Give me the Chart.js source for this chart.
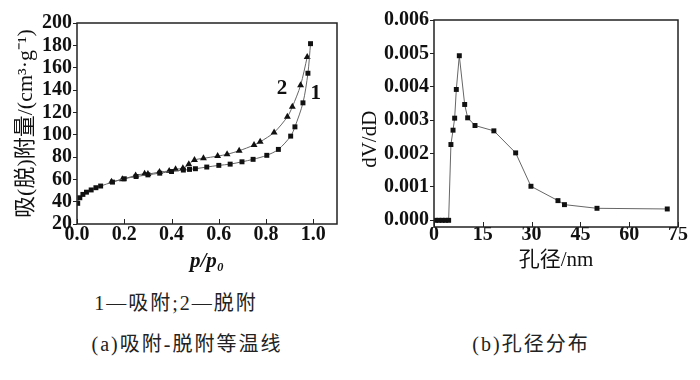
<!DOCTYPE html>
<html>
<head>
<meta charset="utf-8">
<script src="https://cdn.jsdelivr.net/npm/chart.js@4.4.1/dist/chart.umd.min.js"></script>
<style>
    body { margin: 0; background: #fff; width: 700px; height: 380px; position: relative; overflow: hidden;
           font-family: "Liberation Serif", "Noto Sans CJK SC", serif; color: #222 }
    .box { position: absolute; top: 0 }
    .cap { position: absolute; font-size: 20px; letter-spacing: 2px; white-space: nowrap; transform: translate(-50%, -50%) }
</style>
</head>
<body>
<div class="box" style="left:0"><canvas id="isoChart" width="350" height="280"></canvas></div>
<div class="box" style="left:350px"><canvas id="poreChart" width="350" height="280"></canvas></div>
<div class="cap" style="left:176px; top:301px">1—吸附;2—脱附</div>
<div class="cap" style="left:187px; top:342px">(a)吸附-脱附等温线</div>
<div class="cap" style="left:531px; top:342px">(b)孔径分布</div>

<script>
// (a) isotherm, p/p0 vs volume
const adsP = [0.003, 0.012, 0.025, 0.04, 0.06, 0.08, 0.1, 0.15, 0.2, 0.25, 0.3, 0.35, 0.4, 0.45, 0.476, 0.501,
              0.549, 0.6, 0.648, 0.698, 0.745, 0.803, 0.852, 0.904, 0.922, 0.956, 0.977, 0.988]
const adsV = [38.5, 43.5, 46.5, 48.5, 50.5, 52.5, 54, 57.5, 60.5, 62.5, 64, 65.5, 67, 68.3, 68.9, 69.5,
              71, 72.5, 73.6, 75.7, 77.9, 81.5, 86.8, 98.7, 107, 128.5, 155, 181.5]
const desP = [0.146, 0.192, 0.248, 0.286, 0.3, 0.349, 0.39, 0.417, 0.448, 0.473, 0.497, 0.535, 0.595, 0.635,
              0.686, 0.749, 0.775, 0.834, 0.89, 0.911, 0.946, 0.974]
const desV = [57.8, 60, 63.5, 65, 64.7, 66.5, 67.5, 69, 70, 73.4, 77.3, 78.8, 80.8, 82.4,
              85.6, 90.7, 93.6, 102, 116, 124.9, 144.3, 169.6]
const isoXTicks = [0, 0.2, 0.4, 0.6, 0.8, 1.0]
const isoYTicks = [20, 40, 60, 80, 100, 120, 140, 160, 180, 200]
const curveNames = ['2', '1']
const curveNameP = [0.867, 1.01]
const curveNameV = [141.6, 137]

// (b) pore size distribution
const poreD = [0.5, 1.5, 2.5, 3.5, 4.5, 5.2, 5.85, 6.35, 6.86, 7.78, 9.43, 10.35, 12.6, 18.4, 25.1, 29.8,
               38.1, 40.1, 50.1, 71.7]
const poreDv = [0, 0, 0, 0, 0, 0.00227, 0.0027, 0.00306, 0.00392, 0.00493, 0.00347, 0.00307, 0.00284, 0.00268,
                0.00202, 0.00102, 0.00059, 0.00047, 0.00036, 0.00034]
const poreXTicks = [0, 15, 30, 45, 60, 75]
const poreYTicks = [0, 0.001, 0.002, 0.003, 0.004, 0.005, 0.006]

const serif = '"Liberation Serif", "Noto Sans CJK SC", serif'
const tickFont = { family: serif, size: 20, weight: 'bold' }

const toPoints = (xs, ys) => xs.map((x, i) => ({ x: x, y: ys[i] }))

// frame round the plot and inward ticks on the x axis
const boxAndTicks = {
    id: 'boxAndTicks',
    afterDraw(chart) {
        const { ctx, chartArea: a, scales } = chart
        ctx.save()
        ctx.strokeStyle = '#222'
        ctx.lineWidth = 1
        scales.x.ticks.forEach(t => {
            const px = Math.round(scales.x.getPixelForValue(t.value)) + 0.5
            ctx.beginPath()
            ctx.moveTo(px, a.bottom)
            ctx.lineTo(px, a.bottom - 5)
            ctx.stroke()
        })
        ctx.lineWidth = 1.5
        ctx.strokeRect(a.left, a.top, a.right - a.left, a.bottom - a.top)
        ctx.restore()
    }
}

const curveLabels = {
    id: 'curveLabels',
    afterDatasetsDraw(chart) {
        const { ctx, scales } = chart
        ctx.save()
        ctx.fillStyle = '#111'
        ctx.font = 'bold 21px ' + serif
        ctx.textAlign = 'center'
        ctx.textBaseline = 'middle'
        curveNames.forEach((n, i) => {
            ctx.fillText(n, scales.x.getPixelForValue(curveNameP[i]), scales.y.getPixelForValue(curveNameV[i]))
        })
        ctx.restore()
    }
}

function yAxis(min, max, tickValues, fmt, width, title, titleSize) {
    return {
        type: 'linear', min: min, max: max,
        afterBuildTicks: s => { s.ticks = tickValues.map(v => ({ value: v })) },
        afterFit: s => { s.width = width },
        border: { display: false },
        grid: { drawOnChartArea: false, drawTicks: true, tickLength: 4, color: '#222', lineWidth: 1 },
        ticks: { color: '#111', font: tickFont, padding: 1, autoSkip: false, callback: v => v.toFixed(fmt) },
        title: { display: true, text: title, color: '#111', padding: 0, font: { family: serif, size: titleSize } }
    }
}

function xAxis(min, max, tickValues, fmt, height, title, pad, titleFont) {
    return {
        type: 'linear', min: min, max: max,
        afterBuildTicks: s => { s.ticks = tickValues.map(v => ({ value: v })) },
        afterFit: s => { s.height = height },
        border: { display: false },
        grid: { display: false, drawTicks: false },
        ticks: { color: '#111', font: tickFont, padding: pad, maxRotation: 0, autoSkip: false, callback: v => v.toFixed(fmt) },
        title: { display: true, text: title, color: '#111', padding: 0, font: titleFont }
    }
}

const lineStyle = { borderColor: '#666', borderWidth: 1, pointBackgroundColor: '#111', pointBorderColor: '#111',
                    pointBorderWidth: 0, tension: 0.3, fill: false }

new Chart(document.querySelector('#isoChart'), {
    type: 'line',
    data: {
        datasets: [
            Object.assign({ data: toPoints(adsP, adsV), pointStyle: 'rect', pointRadius: 3.5 }, lineStyle),
            Object.assign({ data: toPoints(desP, desV), pointStyle: 'triangle', pointRadius: 4 }, lineStyle)
        ]
    },
    options: {
        responsive: false, animation: false,
        layout: { padding: { left: 13, top: 23, right: 13, bottom: 6 } },
        plugins: { legend: { display: false }, tooltip: { enabled: false } },
        scales: {
            x: xAxis(0, 1.1, isoXTicks, 1, 50, 'p/p₀', -1, { family: serif, size: 21, style: 'italic', weight: 'bold' }),
            y: yAxis(20, 200, isoYTicks, 0, 64, '吸(脱)附量/(cm³·g⁻¹)', 22)
        }
    },
    plugins: [boxAndTicks, curveLabels]
})

new Chart(document.querySelector('#poreChart'), {
    type: 'line',
    data: {
        datasets: [
            Object.assign({}, lineStyle, { data: toPoints(poreD, poreDv), pointStyle: 'rect', pointRadius: 3.5, tension: 0 })
        ]
    },
    options: {
        responsive: false, animation: false,
        layout: { padding: { left: 8, top: 20, right: 22, bottom: 7 } },
        plugins: { legend: { display: false }, tooltip: { enabled: false } },
        scales: {
            x: xAxis(0, 75, poreXTicks, 0, 46, '孔径/nm', -4, { family: serif, size: 21 }),
            y: yAxis(-0.0002, 0.006, poreYTicks, 3, 76, 'dV/dD      ', 21)
        }
    },
    plugins: [boxAndTicks]
})
</script>
</body>
</html>
